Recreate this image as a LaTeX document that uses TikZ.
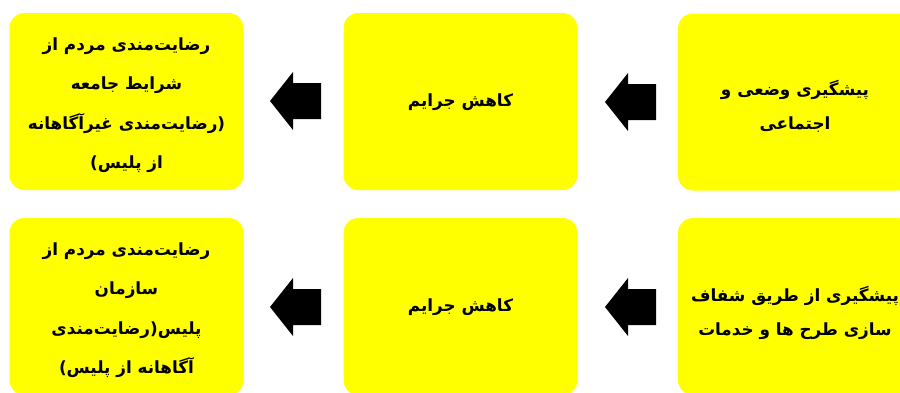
\documentclass[tikz,border=0pt]{standalone}
\usepackage{fontspec}
\TeXXeTstate=1
\newfontfamily\fa[Script=Arabic]{DejaVu Sans}
\newcommand\myrtl[1]{\beginR #1\endR}
\definecolor{boxyellow}{HTML}{FFFF00}
\tikzset{
  box/.style={fill=boxyellow, draw=none, rounded corners=15pt, minimum width=234pt,
    minimum height=177pt, inner sep=0pt},
  boxtext/.style={align=center, inner sep=0pt, text=black},
  fourline/.style={boxtext, font=\fa\bfseries\fontsize{16.8}{39.5}\selectfont},
  twoline/.style={boxtext, font=\fa\bfseries\fontsize{16.8}{34}\selectfont},
  blockarrow/.style={fill=black, draw=none}
}
\newcommand\blockarrowat[1]{\fill[blockarrow] (#1) -- ++(23,-29) -- ++(0,11) -- ++(28,0)
  -- ++(0,36) -- ++(-28,0) -- ++(0,11) -- cycle;}
\begin{document}
\begin{tikzpicture}[x=1pt, y=-1pt]
\useasboundingbox (0,0) rectangle (900,392);
\node[box] (sat1) at (126.5,101.5) {};
\node[box] (crime1) at (460.5,101.5) {};
\node[box] (prev1) at (795,102) {};
\node[box] (sat2) at (126.5,306.5) {};
\node[box] (crime2) at (460.5,306.5) {};
\node[box] (prev2) at (795,306.5) {};
\node[fourline] (sat1t) at ([yshift=-3.5pt]sat1.center) {\myrtl{رضایت‌مندی مردم از}\\\myrtl{شرایط جامعه}\\\myrtl{رضایت‌مندی غیرآگاهانه}(\\)\myrtl{از پلیس}};
\node[twoline] (crime1t) at ([yshift=-1pt]crime1.center) {\myrtl{کاهش جرایم}};
\node[twoline] (prev1t) at ([yshift=-4pt]prev1.center) {\myrtl{پیشگیری وضعی و}\\\myrtl{اجتماعی}};
\node[fourline] (sat2t) at ([yshift=-3.5pt]sat2.center) {\myrtl{رضایت‌مندی مردم از}\\\myrtl{سازمان}\\\myrtl{رضایت‌مندی}(\myrtl{پلیس}\\)\myrtl{آگاهانه از پلیس}};
\node[twoline] (crime2t) at ([yshift=-1pt]crime2.center) {\myrtl{کاهش جرایم}};
\node[twoline] (prev2t) at ([yshift=-6pt]prev2.center) {\myrtl{پیشگیری از طریق شفاف}\\\myrtl{سازی طرح ها و خدمات}};
\coordinate (a1) at (270,101);
\coordinate (a2) at (605,102);
\coordinate (a3) at (270,307);
\coordinate (a4) at (605,307);
\blockarrowat{a1}
\blockarrowat{a2}
\blockarrowat{a3}
\blockarrowat{a4}
\end{tikzpicture}
\end{document}
